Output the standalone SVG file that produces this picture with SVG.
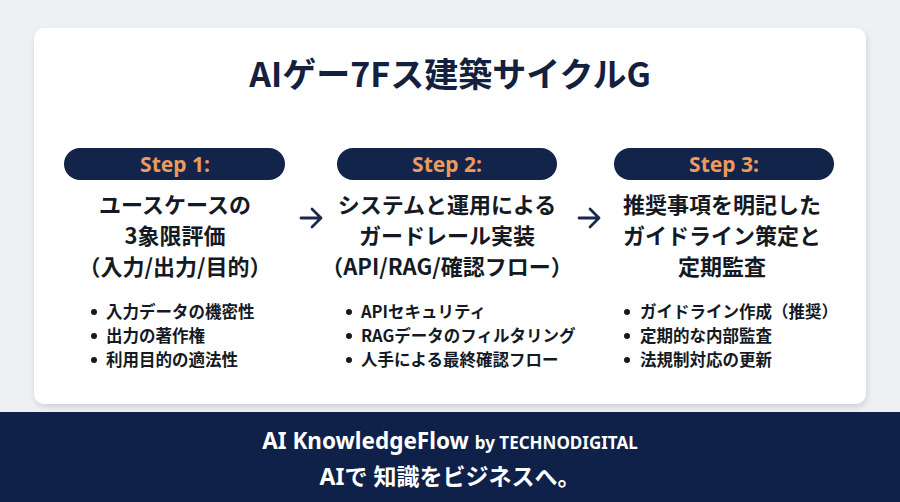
<svg xmlns="http://www.w3.org/2000/svg" width="900" height="502" viewBox="0 0 900 502">
<style>
.t{font-family:"Noto Sans CJK JP","Noto Sans",sans-serif;font-weight:700;fill:#141a24}
.title{font-size:34px;fill:#13213f;text-anchor:middle}
.pill{fill:#13244a}
.step{font-family:"Noto Sans","Noto Sans CJK JP",sans-serif;font-weight:700;font-size:21px;fill:#ee9a5e;text-anchor:middle}
.h{font-size:22px;text-anchor:middle}
.b{font-size:16.5px}
.arr{stroke:#1a2a4c;stroke-width:2.8;fill:none;stroke-linecap:round;stroke-linejoin:round}
.ft{font-family:"Noto Sans","Noto Sans CJK JP",sans-serif;font-weight:700;fill:#fff;text-anchor:middle}
</style>
<defs>
<filter id="sh" x="-5%" y="-5%" width="110%" height="115%">
<feDropShadow dx="1" dy="3" stdDeviation="3" flood-color="#8a96a8" flood-opacity="0.35"/>
</filter>
</defs>
<rect width="900" height="502" fill="#eef1f4"/>
<rect x="34" y="28" width="832" height="376" rx="10" fill="#fff" filter="url(#sh)"/>
<text class="t title" x="450" y="87">AIゲー7Fス建築サイクルG</text>

<g id="step1">
<rect class="pill" x="64" y="148" width="221" height="32" rx="16"/>
<text class="step" x="175" y="172">Step 1:</text>
<text class="t h" x="175" y="213">ユースケースの</text>
<text class="t h" x="175" y="244">3象限評価</text>
<text class="t h" x="175" y="275">（入力/出力/目的）</text>
<circle cx="94" cy="312" r="3" fill="#141a24"/>
<circle cx="94" cy="336" r="3" fill="#141a24"/>
<circle cx="94" cy="360" r="3" fill="#141a24"/>
<text class="t b" x="106" y="318">入力データの機密性</text>
<text class="t b" x="106" y="342">出力の著作権</text>
<text class="t b" x="106" y="366">利用目的の適法性</text>
</g>

<g id="step2">
<rect class="pill" x="337" y="148" width="220" height="32" rx="16"/>
<text class="step" x="447" y="172">Step 2:</text>
<text class="t h" x="447" y="213">システムと運用による</text>
<text class="t h" x="447" y="244">ガードレール実装</text>
<text class="t h" x="447" y="275">（API/RAG/確認フロー）</text>
<circle cx="349" cy="312" r="3" fill="#141a24"/>
<circle cx="349" cy="336" r="3" fill="#141a24"/>
<circle cx="349" cy="360" r="3" fill="#141a24"/>
<text class="t b" x="361" y="318">APIセキュリティ</text>
<text class="t b" x="361" y="342">RAGデータのフィルタリング</text>
<text class="t b" x="361" y="366">人手による最終確認フロー</text>
</g>

<g id="step3">
<rect class="pill" x="614" y="148" width="220" height="32" rx="16"/>
<text class="step" x="724" y="172">Step 3:</text>
<text class="t h" x="722" y="213">推奨事項を明記した</text>
<text class="t h" x="722" y="244">ガイドライン策定と</text>
<text class="t h" x="722" y="275">定期監査</text>
<circle cx="627" cy="312" r="3" fill="#141a24"/>
<circle cx="627" cy="336" r="3" fill="#141a24"/>
<circle cx="627" cy="360" r="3" fill="#141a24"/>
<text class="t b" x="640" y="318">ガイドライン作成（推奨）</text>
<text class="t b" x="640" y="342">定期的な内部監査</text>
<text class="t b" x="640" y="366">法規制対応の更新</text>
</g>

<g id="connectors">
<path class="arr" d="M301 218 H321 M312 209 L321 218 L312 227"/>
<path class="arr" d="M579 218 H599 M590 209 L599 218 L590 227"/>
</g>

<g id="footer">
<rect x="0" y="412" width="900" height="90" fill="#0f2149"/>
<text class="ft" x="450" y="449"><tspan font-size="22.5">AI KnowledgeFlow</tspan><tspan font-size="17" dx="6">by TECHNODIGITAL</tspan></text>
<text class="ft" x="450" y="485" font-size="23" font-family="Noto Sans CJK JP, sans-serif">AIで 知識をビジネスへ。</text>
</g>
</svg>
